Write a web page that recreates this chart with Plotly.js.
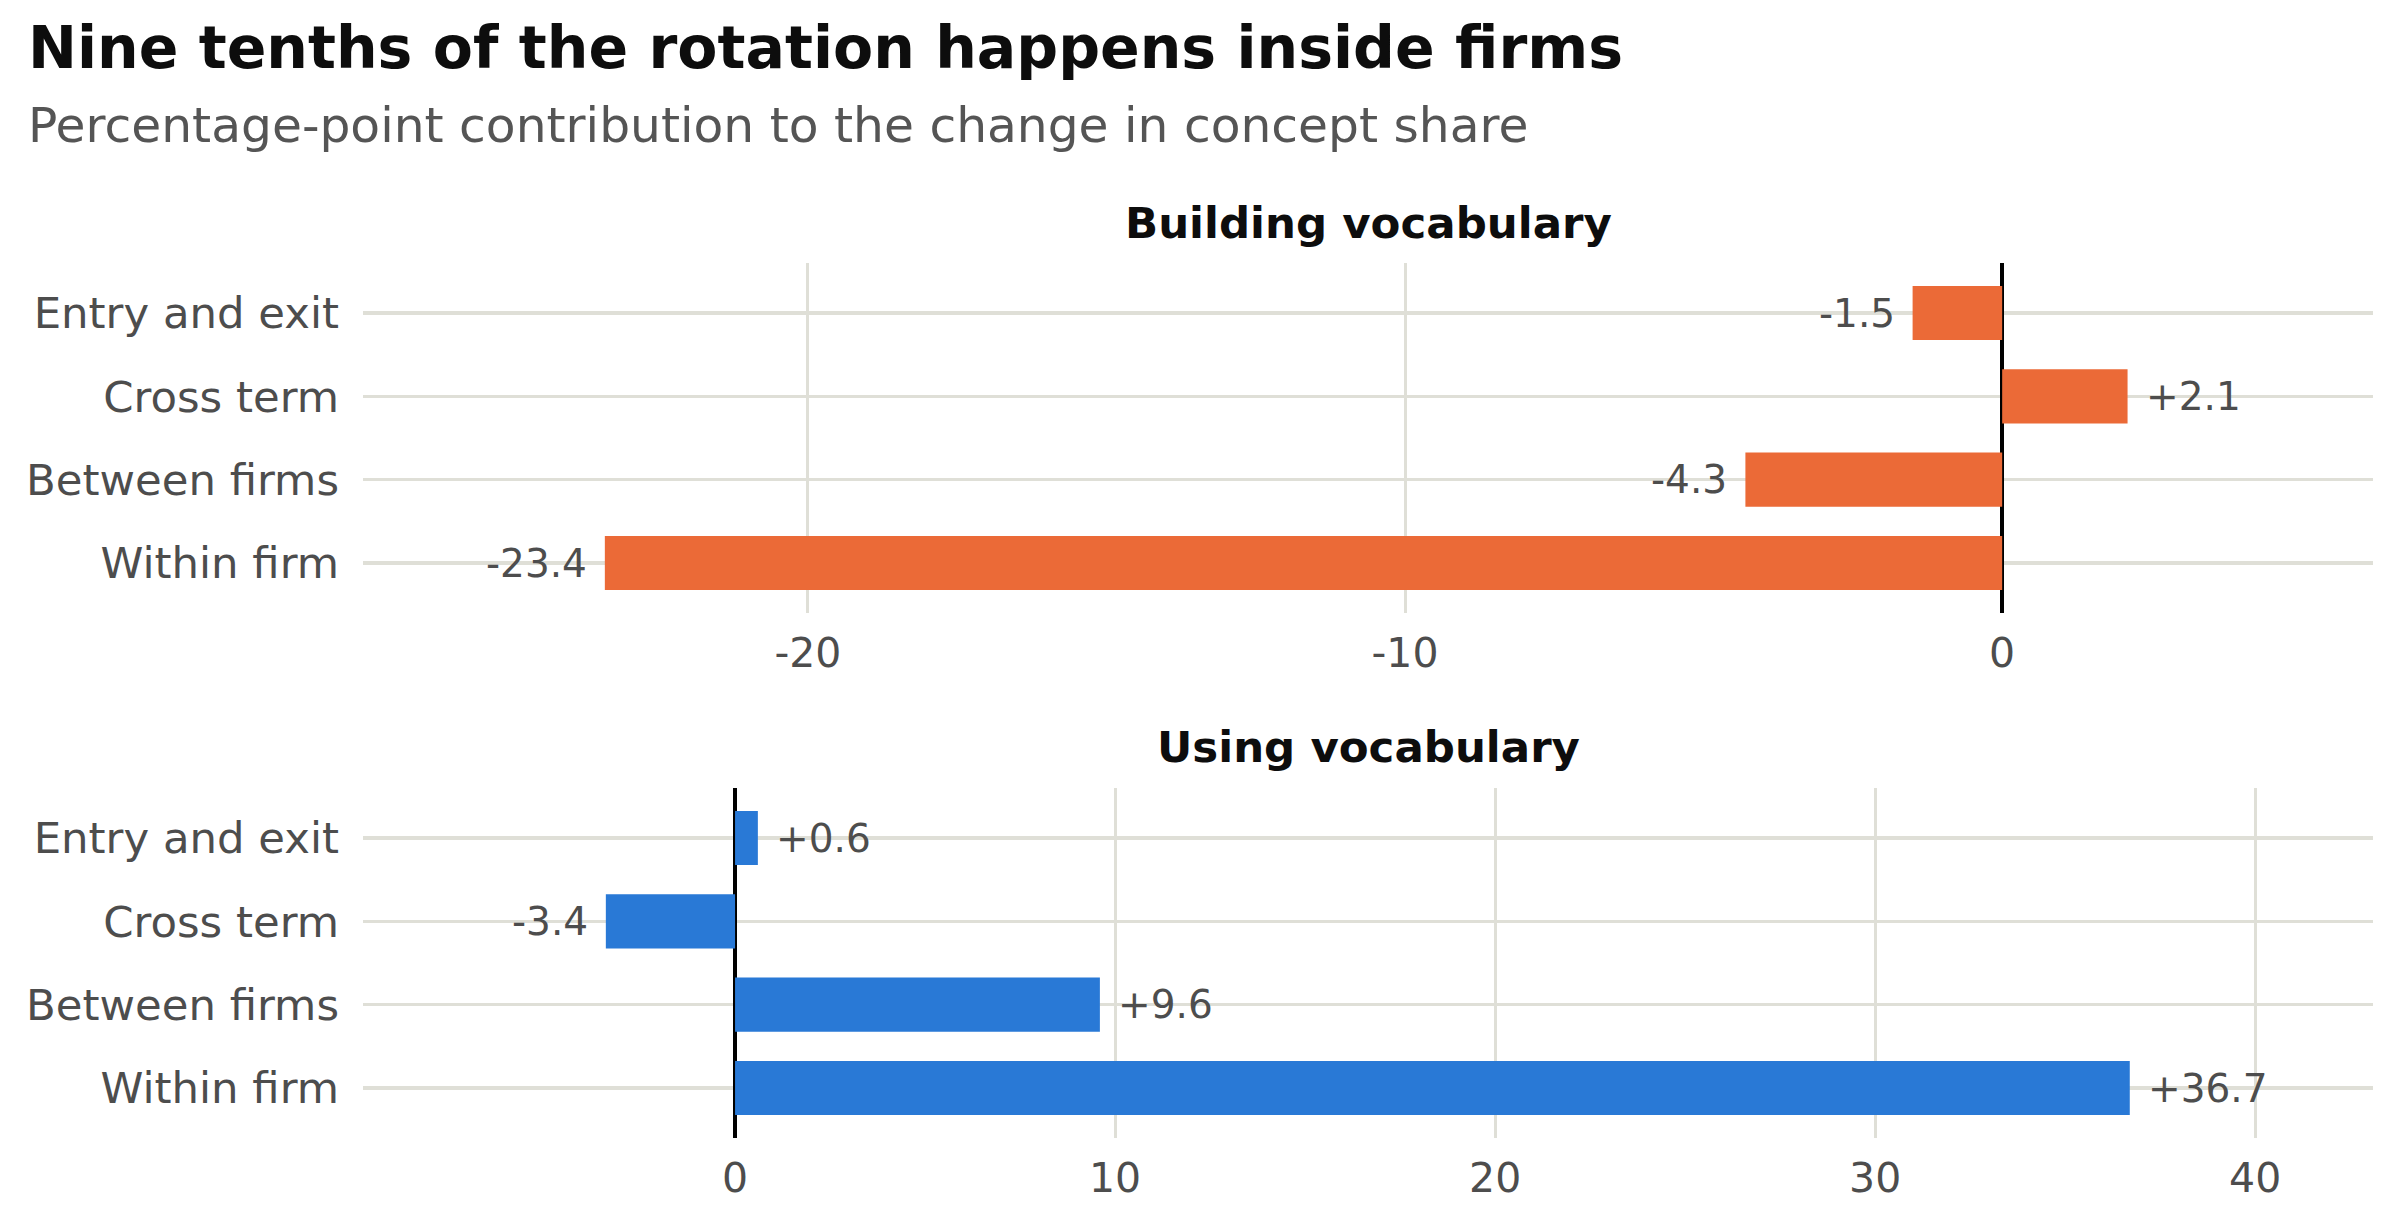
<!DOCTYPE html>
<html>
<head>
<meta charset="utf-8">
<script src="https://cdn.plot.ly/plotly-3.0.1.min.js"></script>
<style>html,body{margin:0;padding:0;background:#fff;}#chart{width:2400px;height:1230px;}</style>
</head>
<body>
<div id="chart"></div>
<script>
// ---- data ----
const categories = ["Within firm", "Between firms", "Cross term", "Entry and exit"];
const buildingValues = [-23.4, -4.3, 2.1, -1.5];
const usingValues = [36.7, 9.6, -3.4, 0.6];
const buildingTicks = [-20, -10, 0];
const usingTicks = [0, 10, 20, 30, 40];
const titleText = "Nine tenths of the rotation happens inside firms";
const subtitleText = "Percentage-point contribution to the change in concept share";
const panelTitles = ["Building vocabulary", "Using vocabulary"];

// ---- style ----
const FONT = "DejaVu Sans, Liberation Sans, sans-serif";
const ORANGE = "#EB6A37";
const BLUE = "#2979D6";
const GRID = "#DFDFD7";
const TXT = "#4D4D4D";

function fmt(v) { return (v > 0 ? "+" : "") + v.toFixed(1); }

const traces = [
  { type: "bar", orientation: "h", x: buildingValues, y: categories, xaxis: "x", yaxis: "y",
    marker: { color: ORANGE, line: { width: 0 } }, width: 0.65, hoverinfo: "skip" },
  { type: "bar", orientation: "h", x: usingValues, y: categories, xaxis: "x2", yaxis: "y2",
    marker: { color: BLUE, line: { width: 0 } }, width: 0.65, hoverinfo: "skip" }
];

const annotations = [];
function addLabels(vals, xr, yr) {
  vals.forEach((v, i) => {
    annotations.push({
      x: v, y: categories[i], xref: xr, yref: yr, showarrow: false,
      text: fmt(v), xanchor: v >= 0 ? "left" : "right", yanchor: "middle",
      xshift: v >= 0 ? 16 : -16,
      font: { family: FONT, size: 39, color: TXT }
    });
  });
}
addLabels(buildingValues, "x", "y");
addLabels(usingValues, "x2", "y2");

// titles
const PW = 2010, PB = 1138, PH = 875, PL = 363;
annotations.push({ text: "<b>" + titleText + "</b>", xref: "paper", yref: "paper",
  x: (26 - PL) / PW, y: (PB - 84) / PH, xanchor: "left", yanchor: "bottom", showarrow: false,
  font: { family: FONT, size: 58.5, color: "#0d0d0d" } });
annotations.push({ text: subtitleText, xref: "paper", yref: "paper",
  x: (26 - PL) / PW, y: (PB - 155) / PH, xanchor: "left", yanchor: "bottom", showarrow: false,
  font: { family: FONT, size: 48.7, color: "#555555" } });
annotations.push({ text: "<b>" + panelTitles[0] + "</b>", xref: "paper", yref: "paper",
  x: 0.5, y: (PB - 250) / PH, xanchor: "center", yanchor: "bottom", showarrow: false,
  font: { family: FONT, size: 43.5, color: "#0d0d0d" } });
annotations.push({ text: "<b>" + panelTitles[1] + "</b>", xref: "paper", yref: "paper",
  x: 0.5, y: (PB - 774) / PH, xanchor: "center", yanchor: "bottom", showarrow: false,
  font: { family: FONT, size: 43.5, color: "#0d0d0d" } });

function xax(range, ticks, anchor) {
  return { domain: [0, 1], anchor: anchor, range: range, tickvals: ticks,
    ticktext: ticks.map(t => String(t)), tickmode: "array",
    showgrid: true, gridcolor: GRID, gridwidth: 3, zeroline: true, zerolinecolor: "#000000",
    zerolinewidth: 4, showline: false, ticks: "", ticklabelstandoff: 12,
    tickfont: { family: FONT, size: 41, color: TXT }, fixedrange: true };
}
function yax(domain, anchor) {
  return { domain: domain, anchor: anchor, type: "category", categoryorder: "array",
    categoryarray: categories, range: [-0.6, 3.6], showgrid: true, gridcolor: GRID,
    gridwidth: 3.5, zeroline: false, showline: false, ticks: "", ticklabelstandoff: 23,
    tickfont: { family: FONT, size: 43.4, color: TXT }, fixedrange: true };
}

const layout = {
  width: 2400, height: 1230,
  margin: { l: PL, r: 27, t: 263, b: 92, pad: 0 },
  paper_bgcolor: "#ffffff", plot_bgcolor: "#ffffff",
  showlegend: false,
  font: { family: FONT, color: TXT },
  xaxis: xax([-27.45, 6.21], buildingTicks, "y"),
  yaxis: yax([0.6, 1], "x"),
  xaxis2: xax([-9.79, 43.1], usingTicks, "y2"),
  yaxis2: yax([0, 0.4], "x2"),
  annotations: annotations,
  bargap: 0.35
};

Plotly.newPlot("chart", traces, layout, { displayModeBar: false, staticPlot: true });
</script>
</body>
</html>
